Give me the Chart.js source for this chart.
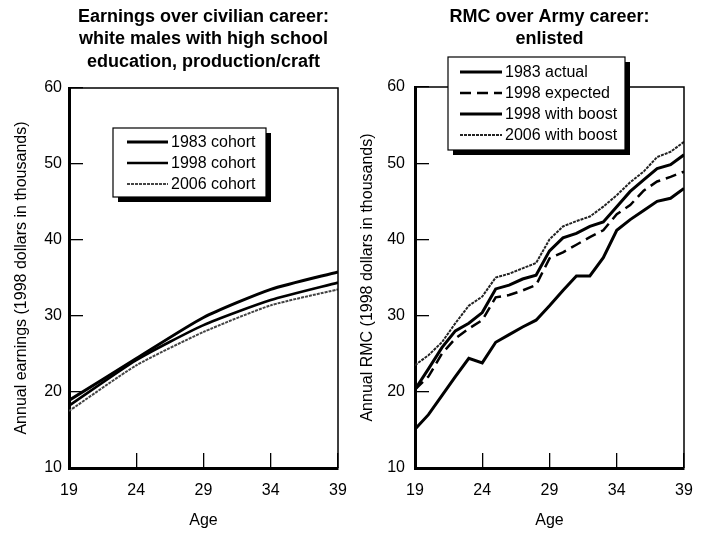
<!DOCTYPE html>
<html><head><meta charset="utf-8">
<script src="https://cdn.jsdelivr.net/npm/chart.js@4"></script>
<style>
html,body{margin:0;padding:0;background:#fff;}
#wrap{position:relative;width:701px;height:533px;background:#fff;}
.box{position:absolute;top:0;height:533px;}
</style></head><body>
<div id="wrap">
<div class="box" style="left:0;width:350px"><canvas id="c1" width="350" height="533"></canvas></div>
<div class="box" style="left:350px;width:351px"><canvas id="c2" width="351" height="533"></canvas></div>
</div>
<script>
// ---- data ----
const xTicks = [19, 24, 29, 34, 39];
const civAges = [19, 24, 29, 34, 39];
const civ1983 = [18.9, 24.4, 29.8, 33.5, 35.8];
const civ1998 = [18.2, 24.2, 28.8, 32.1, 34.4];
const civ2006 = [17.5, 23.5, 27.9, 31.4, 33.5];

const armyAges = [19,20,21,22,23,24,25,26,27,28,29,30,31,32,33,34,35,36,37,38,39];
const rmc1983Actual   = [15.1,17.0,19.5,22.0,24.4,23.8,26.5,27.5,28.5,29.4,31.3,33.3,35.2,35.2,37.6,41.2,42.6,43.8,45.0,45.4,46.7];
const rmc1998Expected = [20.3,22.0,25.0,27.0,28.3,29.4,32.4,32.7,33.3,34.0,37.5,38.3,39.3,40.3,41.2,43.3,44.5,46.4,47.6,48.2,48.9];
const rmc1998Boost    = [20.3,23.0,25.8,28.0,29.0,30.4,33.5,34.0,34.8,35.3,38.5,40.2,40.8,41.7,42.3,44.3,46.3,47.8,49.3,49.8,51.1];
const rmc2006Boost    = [23.5,24.8,26.5,29.0,31.3,32.5,35.0,35.5,36.2,36.9,40.0,41.7,42.4,43.0,44.3,45.8,47.5,48.9,50.8,51.5,52.8];

const civLabels = ['1983 cohort', '1998 cohort', '2006 cohort'];
const armyLabels = ['1983 actual', '1998 expected', '1998 with boost', '2006 with boost'];

const FONT = '"Liberation Sans", Arial, Helvetica, sans-serif';
Chart.defaults.font.family = FONT;
Chart.defaults.font.size = 16;
Chart.defaults.color = '#000';

function pts(xs, ys){ return xs.map((x,i)=>({x:x, y:ys[i]})); }

const decor = {
  id: 'decor',
  afterDraw(chart, args, o) {
    const ctx = chart.ctx, a = chart.chartArea;
    ctx.save();
    // top & right frame
    ctx.strokeStyle = '#000'; ctx.lineWidth = 1.5;
    ctx.beginPath();
    ctx.moveTo(a.left, a.top); ctx.lineTo(a.right, a.top); ctx.lineTo(a.right, a.bottom);
    ctx.stroke();
    // title
    ctx.font = 'bold 18px ' + FONT;
    ctx.fillStyle = '#000'; ctx.textAlign = 'center'; ctx.textBaseline = 'middle';
    const cx = (a.left + a.right) / 2;
    o.title.forEach((t, i) => ctx.fillText(t, cx, o.titleY + i * o.titleLH));
    // legend
    const L = o.legend;
    ctx.fillStyle = '#000';
    ctx.fillRect(L.x + L.sh, L.y + L.sh, L.w, L.h);
    ctx.fillStyle = '#fff';
    ctx.fillRect(L.x, L.y, L.w, L.h);
    ctx.strokeStyle = '#000'; ctx.lineWidth = 1.2;
    ctx.strokeRect(L.x, L.y, L.w, L.h);
    ctx.font = '16px ' + FONT; ctx.textAlign = 'left'; ctx.textBaseline = 'middle';
    chart.data.datasets.forEach((ds, i) => {
      const y = L.firstY + i * L.step;
      ctx.save();
      ctx.strokeStyle = ds.borderColor; ctx.lineWidth = ds.borderWidth;
      ctx.setLineDash(ds.borderDash || []);
      ctx.beginPath(); ctx.moveTo(L.lx1, y); ctx.lineTo(L.lx2, y); ctx.stroke();
      ctx.restore();
      ctx.fillStyle = '#000';
      ctx.fillText(ds.label, L.tx, y + 1);
    });
    ctx.restore();
  }
};

function scales(opt) {
  return {
    x: {
      type: 'linear', min: 19, max: 39,
      afterBuildTicks: s => { s.ticks = xTicks.map(v => ({value: v})); },
      afterFit: s => { s.height = opt.xH; s.paddingLeft = 0; s.paddingRight = 0; },
      grid: { drawOnChartArea: false, drawTicks: true, tickLength: -15, color: '#000', lineWidth: 1.3 },
      border: { display: true, width: 3, color: '#000' },
      ticks: { padding: 28, font: { size: 16 }, color: '#000', maxRotation: 0, autoSkip: false },
      title: { display: true, text: 'Age', font: { size: 16 }, color: '#000', padding: { top: 0, bottom: 2.4 } }
    },
    y: {
      type: 'linear', min: 10, max: 60,
      ticks: { stepSize: 10, padding: opt.yPad, font: { size: 16 }, color: '#000' },
      afterFit: s => { s.width = opt.yW; s.paddingTop = 0; s.paddingBottom = 0; },
      grid: { drawOnChartArea: false, drawTicks: true, tickLength: -14, color: '#000', lineWidth: 1.3 },
      border: { display: true, width: 3, color: '#000' },
      title: { display: true, text: opt.yTitle, font: { size: 16 }, color: '#000', padding: { top: opt.yTitlePad, bottom: 0 } }
    }
  };
}

new Chart(document.getElementById('c1'), {
  type: 'line',
  data: {
    datasets: [
      { label: civLabels[0], data: pts(civAges, civ1983), borderColor: '#000', borderWidth: 3, pointRadius: 0, tension: 0.2 },
      { label: civLabels[1], data: pts(civAges, civ1998), borderColor: '#000', borderWidth: 2.6, pointRadius: 0, tension: 0.2 },
      { label: civLabels[2], data: pts(civAges, civ2006), borderColor: '#444', borderWidth: 2, borderDash: [3, 1], pointRadius: 0, tension: 0.2 }
    ]
  },
  options: {
    responsive: false, animation: false,
    layout: { padding: { top: 88, right: 12, left: 0, bottom: 0 } },
    plugins: {
      legend: { display: false }, tooltip: { enabled: false },
      decor: {
        title: ['Earnings over civilian career:', 'white males with high school', 'education, production/craft'],
        titleY: 17, titleLH: 22.5,
        legend: { x: 113, y: 128, w: 153, h: 69, sh: 5, firstY: 142, step: 21, lx1: 127, lx2: 168, tx: 171 }
      }
    },
    scales: scales({ xH: 65, yW: 69, yPad: 21, yTitle: 'Annual earnings (1998 dollars in thousands)', yTitlePad: 12 })
  },
  plugins: [decor]
});

new Chart(document.getElementById('c2'), {
  type: 'line',
  data: {
    datasets: [
      { label: armyLabels[0], data: pts(armyAges, rmc1983Actual), borderColor: '#000', borderWidth: 3, pointRadius: 0, tension: 0 },
      { label: armyLabels[1], data: pts(armyAges, rmc1998Expected), borderColor: '#000', borderWidth: 2.5, borderDash: [11, 6], pointRadius: 0, tension: 0 },
      { label: armyLabels[2], data: pts(armyAges, rmc1998Boost), borderColor: '#000', borderWidth: 3, pointRadius: 0, tension: 0 },
      { label: armyLabels[3], data: pts(armyAges, rmc2006Boost), borderColor: '#222', borderWidth: 2, borderDash: [3, 1], pointRadius: 0, tension: 0 }
    ]
  },
  options: {
    responsive: false, animation: false,
    layout: { padding: { top: 87, right: 17, left: 0, bottom: 0 } },
    plugins: {
      legend: { display: false }, tooltip: { enabled: false },
      decor: {
        title: ['RMC over Army career:', 'enlisted'],
        titleY: 17, titleLH: 22.5,
        legend: { x: 98, y: 57, w: 177, h: 93, sh: 5, firstY: 72, step: 21, lx1: 110, lx2: 152, tx: 155 }
      }
    },
    scales: scales({ xH: 65, yW: 65, yPad: 24, yTitle: 'Annual RMC (1998 dollars in thousands)', yTitlePad: 8 })
  },
  plugins: [decor]
});
</script>
</body></html>
